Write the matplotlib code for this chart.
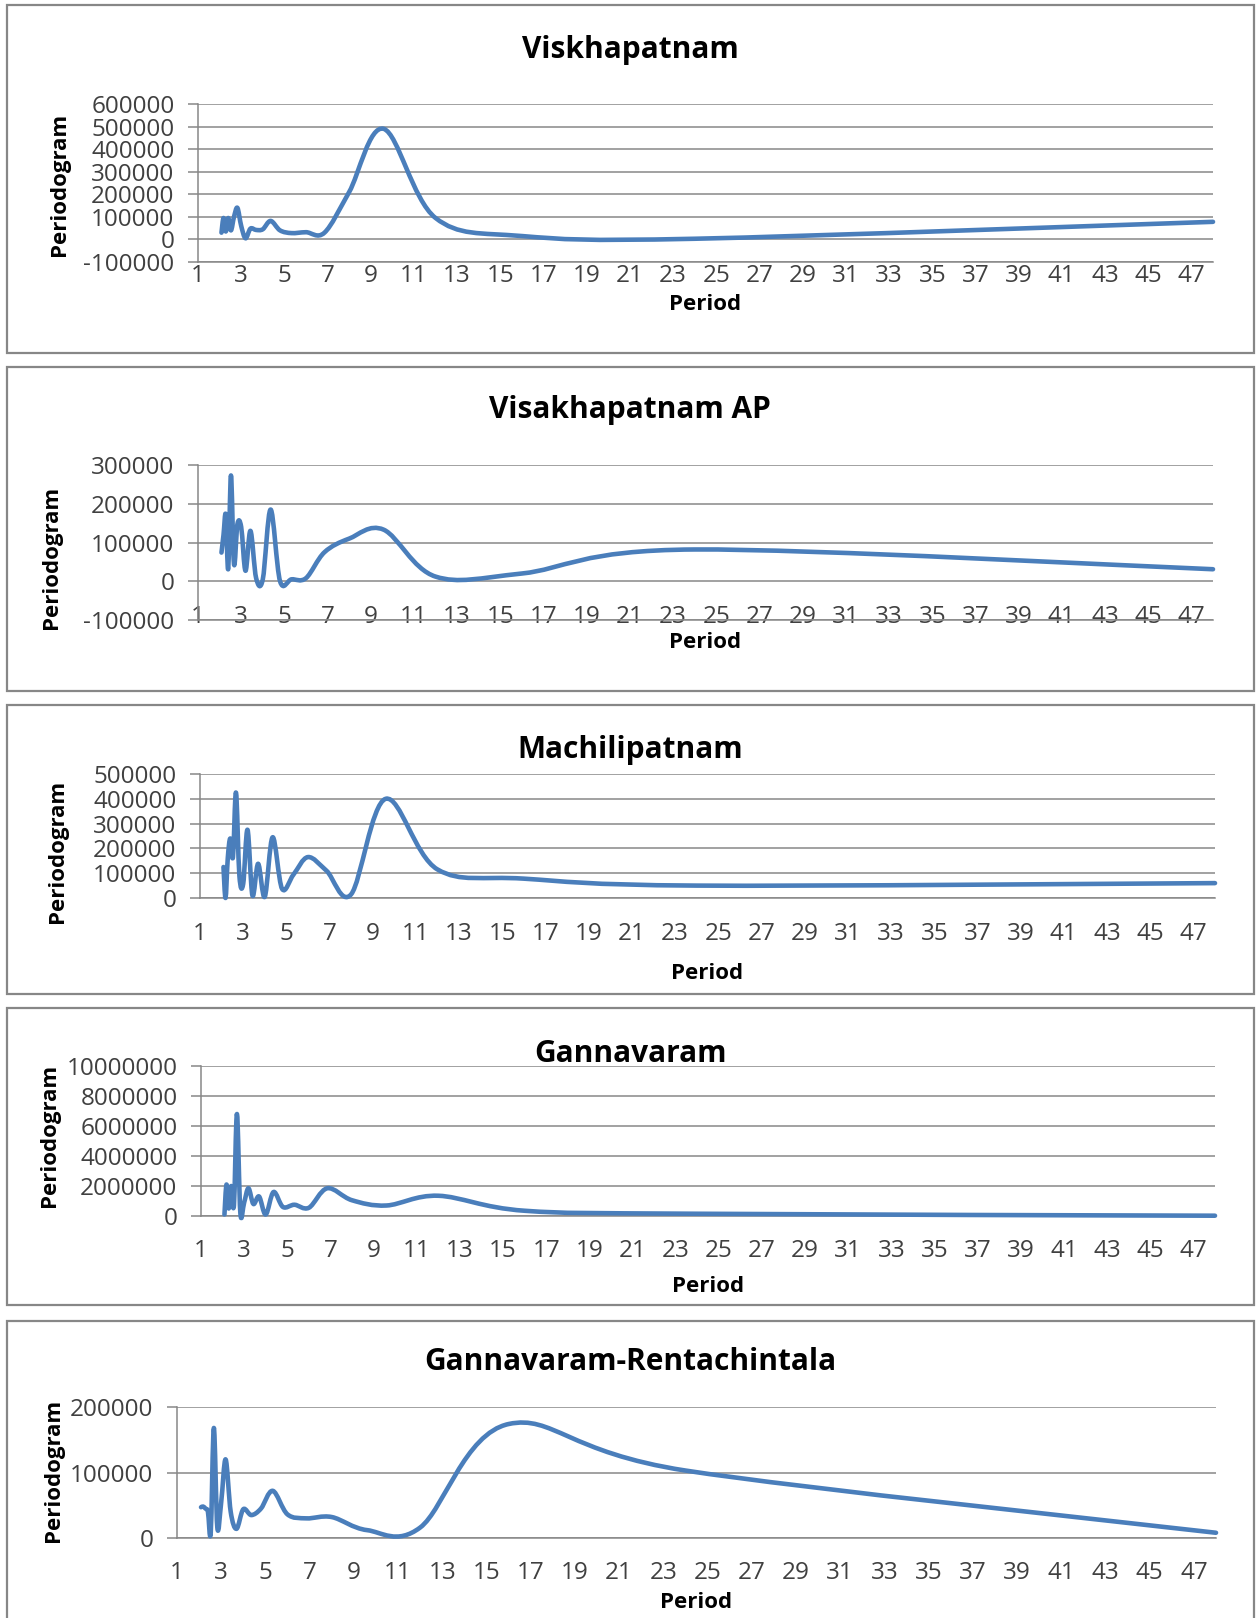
import numpy as np
import matplotlib
matplotlib.use("Agg")
import matplotlib.pyplot as plt
from matplotlib.path import Path
from matplotlib.patches import PathPatch, Rectangle

plt.rcParams['font.family'] = ['Open Sans', 'DejaVu Sans']

# periods (48/k) shared by all stations
period = [2.087, 2.182, 2.286, 2.4, 2.526, 2.667, 2.824, 3.0, 3.2, 3.429, 3.692, 4.0,
          4.364, 4.8, 5.333, 6.0, 6.857, 8.0, 9.6, 12.0, 16.0, 24.0, 48.0]

viskhapatnam = [30000, 95000, 35000, 95000, 40000, 100000, 140000, 60000, 5000, 48000, 42000, 45000,
                82000, 40000, 28000, 32000, 30000, 210000, 490000, 95000, 15000, 3000, 78000]
visakhapatnam_ap = [74000, 120000, 172000, 32000, 273000, 44000, 147000, 140000, 27000, 130000, 8000, 5000,
                    185000, 0, 5000, 8000, 75000, 110000, 133000, 12000, 20000, 82000, 31000]
machilipatnam = [125000, 0, 160000, 240000, 165000, 425000, 90000, 57000, 275000, 10000, 138000, 5000,
                 245000, 37000, 95000, 165000, 110000, 15000, 400000, 115000, 78000, 50000, 60000]
gannavaram = [100000, 2100000, 500000, 2000000, 700000, 6800000, 200000, 900000, 1850000, 800000, 1300000, 100000,
              1600000, 600000, 750000, 550000, 1850000, 1050000, 700000, 1350000, 350000, 150000, 20000]
rentachintala = [47000, 48000, 45000, 40000, 8000, 168000, 16000, 55000, 120000, 40000, 14000, 44000,
                 35000, 45000, 72000, 36000, 30000, 32000, 12000, 16000, 174000, 103000, 8000]

titles = ["Viskhapatnam", "Visakhapatnam AP", "Machilipatnam", "Gannavaram", "Gannavaram-Rentachintala"]
series = [viskhapatnam, visakhapatnam_ap, machilipatnam, gannavaram, rentachintala]
y_ticks = [list(range(-100000, 600001, 100000)),
           list(range(-100000, 300001, 100000)),
           list(range(0, 500001, 100000)),
           list(range(0, 10000001, 2000000)),
           list(range(0, 200001, 100000))]
x_ticks = list(range(1, 48, 2))

W, H = 1257, 1618
# layout in pixels: border box, plot area, text positions
boxes = [(5, 353), (367, 691), (705, 994), (1008, 1305), (1321, 1640)]
plots = [(198, 1213, 104, 262), (198, 1213, 465, 620), (200, 1215, 774, 898),
         (201, 1215, 1066, 1216), (177, 1216, 1407, 1538)]
title_y = [50, 410, 750, 1054, 1362]
ylab_pos = [(60, 184), (52, 557), (57, 851), (50, 1135), (53, 1470)]
xlab_y = [304, 642, 973, 1287, 1603]
xtick_y = [276, 617, 934, 1251, 1573]

grey = '#878787'
blue = '#4a7ebb'


def smooth_path(x, y):
    # Excel-style smoothed line: cubic Bezier through the points
    pts = np.column_stack([x, y]).astype(float)
    n = len(pts)
    verts = [pts[0]]
    codes = [Path.MOVETO]
    for i in range(n - 1):
        p0 = pts[i - 1] if i > 0 else pts[i]
        p1 = pts[i]
        p2 = pts[i + 1]
        p3 = pts[i + 2] if i + 2 < n else pts[i + 1]
        c1 = p1 + (p2 - p0) / 6.0
        c2 = p2 - (p3 - p1) / 6.0
        verts += [c1, c2, p2]
        codes += [Path.CURVE4] * 3
    return Path(verts, codes)


fig = plt.figure(figsize=(W / 100, H / 100), dpi=100)
fig.patch.set_facecolor('white')

for i in range(5):
    top, bot = boxes[i]
    fig.patches.append(Rectangle((7 / W, 1 - bot / H), (1254 - 7) / W, (bot - top) / H,
                                 transform=fig.transFigure, fill=False, edgecolor=grey, lw=1.6))

    l, r, t, b = plots[i]
    ax = fig.add_axes([l / W, 1 - b / H, (r - l) / W, (b - t) / H])
    ax.set_facecolor('none')
    ax.add_patch(PathPatch(smooth_path(period, series[i]), fill=False, edgecolor=blue,
                           lw=3.3, capstyle='round', joinstyle='round', clip_on=False, zorder=3))
    ax.set_xlim(1, 48)
    ax.set_ylim(y_ticks[i][0], y_ticks[i][-1])
    ax.set_xticks(x_ticks)
    ax.set_xticklabels([str(v) for v in x_ticks])
    ax.set_yticks(y_ticks[i])
    ax.set_yticklabels([str(v) for v in y_ticks[i]])
    ax.grid(axis='y', color=grey, lw=1.1)
    ax.set_axisbelow(True)
    for s in ['top', 'right']:
        ax.spines[s].set_visible(False)
    for s in ['left', 'bottom']:
        ax.spines[s].set_color(grey)
        ax.spines[s].set_linewidth(1.1)
    ax.tick_params(axis='y', length=7, width=1.1, color=grey, pad=10, labelsize=17.5, labelcolor='#404040')
    pad = (xtick_y[i] - b) * 0.72
    ax.tick_params(axis='x', length=0, pad=pad, labelsize=17.5, labelcolor='#404040')
    plt.setp(ax.get_xticklabels(), va='center')

    fig.text(630 / W, 1 - title_y[i] / H, titles[i], ha='center', va='center',
             fontsize=21.5, fontweight='bold', color='black')
    fig.text(ylab_pos[i][0] / W, 1 - ylab_pos[i][1] / H, "Periodogram", rotation=90,
             ha='center', va='center', fontsize=16, fontweight='bold', color='black')
    fig.text(((l + r) / 2) / W, 1 - xlab_y[i] / H, "Period", ha='center', va='center',
             fontsize=16, fontweight='bold', color='black')

fig.savefig("out.png", dpi=100)
